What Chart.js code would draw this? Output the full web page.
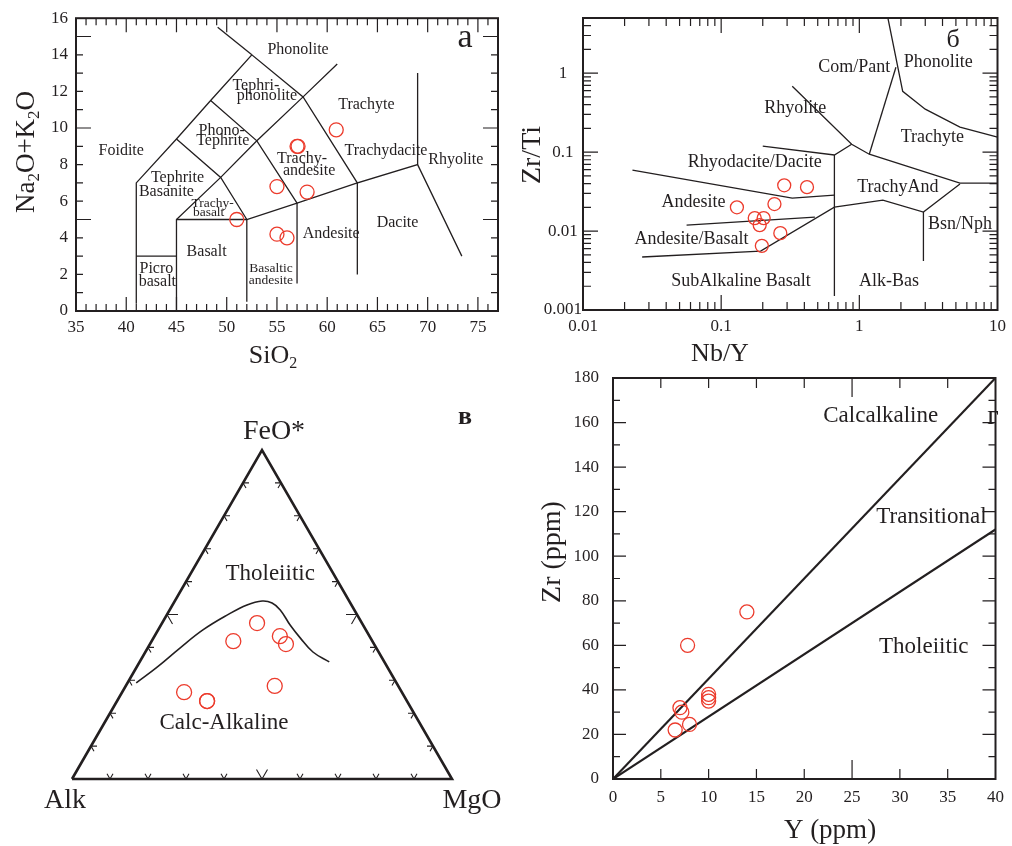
<!DOCTYPE html>
<html>
<head>
<meta charset="utf-8">
<title>Discrimination diagrams</title>
<script src="https://cdn.jsdelivr.net/npm/chart.js@4.4.1/dist/chart.umd.min.js"></script>
<style>
  body { margin: 0; background: #fff; }
  #wrap { position: relative; width: 1012px; height: 846px; }
  #wrap canvas { position: absolute; left: 0; top: 0; }
</style>
</head>
<body>
<div id="wrap">
  <canvas id="tas" width="1012" height="846"></canvas>
  <canvas id="wf" width="1012" height="846"></canvas>
  <canvas id="afm" width="1012" height="846"></canvas>
  <canvas id="zry" width="1012" height="846"></canvas>
</div>
<script>
// а: TAS, SiO2 vs Na2O+K2O
const tasSiO2 = [51.0, 60.9, 57.0, 57.1, 55.0, 58.0, 55.0, 56.0];
const tasAlk = [5.0, 9.9, 9.0, 9.0, 6.8, 6.5, 4.2, 4.0];
const tasXTicks = [35, 40, 45, 50, 55, 60, 65, 70, 75];
const tasYTicks = [0, 2, 4, 6, 8, 10, 12, 14, 16];
const tasBounds = [
  [[41, 0.4], [41, 7], [45, 9.4], [48.4, 11.5], [52.5, 14], [57.6, 11.7], [63, 7], [69, 8], [73.4, 3]],
  [[49.1, 15.5], [52.5, 14]],
  [[41, 3], [45, 3]],
  [[45, 0], [45, 5], [49.4, 7.3], [53, 9.3], [57.6, 11.7], [61, 13.5]],
  [[45, 9.4], [49.4, 7.3], [52, 5]],
  [[48.4, 11.5], [53, 9.3], [57, 5.9]],
  [[45, 5], [52, 5], [57, 5.9], [63, 7]],
  [[52, 0.5], [52, 5]],
  [[57, 1.5], [57, 5.9]],
  [[63, 2], [63, 7]],
  [[69, 8], [69, 13]]
];
const tasNames = [
  ['Phonolite', 57.1, 14.3], ['Tephri-', 52.9, 12.3], ['phonolite', 54.0, 11.75],
  ['Phono-', 49.5, 9.85], ['Tephrite', 49.6, 9.3], ['Foidite', 39.5, 8.75],
  ['Tephrite', 45.1, 7.3], ['Basanite', 44.0, 6.5], ['Basalt', 48.0, 3.26],
  ['Picro', 43.0, 2.3], ['basalt', 43.1, 1.6], ['Andesite', 60.4, 4.2],
  ['Dacite', 67.0, 4.8], ['Trachy-', 57.5, 8.3], ['andesite', 58.2, 7.66],
  ['Trachyte', 63.9, 11.25], ['Trachydacite', 65.85, 8.75], ['Rhyolite', 72.8, 8.25]
];
const tasNamesSmall = [
  ['Trachy-', 48.6, 5.9], ['basalt', 48.2, 5.4], ['Basaltic', 54.4, 2.35], ['andesite', 54.4, 1.65]
];

// б: Zr/Ti vs Nb/Y
const wfNbY = [0.286, 0.418, 0.243, 0.13, 0.175, 0.203, 0.19, 0.268, 0.197];
const wfZrTi = [0.038, 0.036, 0.022, 0.020, 0.0146, 0.0146, 0.0119, 0.0094, 0.0065];
const wfXTicks = [0.01, 0.1, 1, 10];
const wfYTicks = [0.001, 0.01, 0.1, 1];
const wfBounds = [
  [[0.2, 0.119], [0.66, 0.092], [0.88, 0.126]],
  [[0.327, 0.684], [0.88, 0.126], [1.18, 0.094], [5.35, 0.0405], [10, 0.0405]],
  [[1.18, 0.094], [1.84, 1.19]],
  [[1.61, 5], [2.06, 0.59], [3.0, 0.35], [5.35, 0.207], [10, 0.155]],
  [[0.66, 0.092], [0.66, 0.0015]],
  [[0.0228, 0.0592], [0.327, 0.0262], [0.66, 0.0286]],
  [[0.0562, 0.0119], [0.477, 0.015]],
  [[0.0268, 0.00469], [0.193, 0.00558], [0.66, 0.0201], [1.48, 0.0247], [2.91, 0.0174], [5.35, 0.0395]],
  [[2.91, 0.0174], [2.91, 0.00417]]
];
const wfNames = [
  ['Phonolite', 3.73, 1.38], ['Com/Pant', 0.92, 1.19], ['Rhyolite', 0.344, 0.36],
  ['Trachyte', 3.38, 0.155], ['Rhyodacite/Dacite', 0.175, 0.0747], ['Andesite', 0.063, 0.0233],
  ['TrachyAnd', 1.9, 0.036], ['Andesite/Basalt', 0.061, 0.0079], ['Bsn/Nph', 5.35, 0.0123],
  ['SubAlkaline Basalt', 0.139, 0.00233], ['Alk-Bas', 1.64, 0.00233]
];

// в: AFM, wt% Alk / FeO* / MgO
const afmAlk = [57.3, 52.6, 52.6, 36.6, 27.6, 23.6, 23.2, 32.5];
const afmFeO = [26.4, 23.7, 23.7, 41.9, 47.4, 43.4, 41.0, 28.3];
const afmMgO = [16.3, 23.7, 23.7, 21.5, 25.0, 33.0, 35.8, 39.2];
const afmCurveFeO = [29.2, 34.0, 39.8, 45.3, 49.8, 52.9, 54.1, 53.5, 51.4, 46.8, 42.9, 38.6, 35.6];
const afmCurveMgO = [2.3, 5.4, 8.5, 11.8, 15.9, 19.6, 23.0, 25.9, 29.1, 34.0, 38.6, 44.1, 49.9];
const afmNames = [['Tholeiitic', 62.3, 21.0], ['Calc-Alkaline', 17.0, 31.5]];

// г: Zr vs Y
const zyY = [14, 7.8, 10, 10, 10, 7, 7.2, 6.5, 8];
const zyZr = [75, 60, 38, 36.5, 35, 32, 30, 22, 24.5];
const zyXTicks = [0, 5, 10, 15, 20, 25, 30, 35, 40];
const zyYTicks = [0, 20, 40, 60, 80, 100, 120, 140, 160, 180];
const zyBounds = [[[0, 0], [40, 180]], [[0, 0], [40, 112]]];
const zyNames = [['Calcalkaline', 28, 163], ['Transitional', 33.3, 117.6], ['Tholeiitic', 32.5, 59.2]];

const W = 1012, H = 846;
const SERIF = "'Liberation Serif', 'Times New Roman', serif";
const INK = '#231f20';
const RED = '#ec3b2c';
const H3 = Math.sqrt(3) / 2;

Chart.defaults.font.family = SERIF;
Chart.defaults.color = INK;
Chart.defaults.animation = false;
Chart.defaults.events = [];
Chart.defaults.plugins.legend.display = false;
Chart.defaults.plugins.tooltip.enabled = false;

function range(a, b, step) {
  const out = [];
  for (let v = a; v <= b + 1e-9; v += step) out.push(+v.toFixed(6));
  return out;
}
function logMinor(d0, d1) {
  const out = [];
  for (let e = d0; e < d1; e++) for (let k = 2; k <= 9; k++) out.push(k * Math.pow(10, e));
  return out;
}
function pts(xs, ys) { return xs.map((v, i) => ({ x: v, y: ys[i] })); }

function samples(data, r) {
  return { data, pointRadius: r, borderColor: RED, backgroundColor: 'rgba(0,0,0,0)', borderWidth: 1.3, showLine: false, clip: false };
}
function lines(list, w) {
  return list.map(l => ({
    data: l.map(([x, y]) => ({ x, y })), showLine: true, borderColor: INK, borderWidth: w, pointRadius: 0, tension: 0
  }));
}
function pad(area, yw, xh) {
  return { left: area.left - yw, top: area.top, right: W - area.right, bottom: H - area.bottom - xh };
}
function axis(type, min, max, ticks, fixed, padding, extra) {
  return Object.assign({
    type, min, max,
    grid: { display: false, drawTicks: false },
    border: { display: false },
    ticks: { color: INK, font: { family: SERIF, size: 17 }, padding, autoSkip: false, maxRotation: 0, minRotation: 0, callback: v => String(v) },
    afterBuildTicks: s => { s.ticks = ticks.map(v => ({ value: v })); },
    afterFit: s => { if (s.isHorizontal()) s.height = fixed; else s.width = fixed; }
  }, extra || {});
}

// text with "_x" subscripts, centred on (x, y)
function rich(ctx, str, x, y, size, rot, bold) {
  const parts = str.split(/(_.)/).filter(Boolean)
    .map(p => p[0] === '_' ? { t: p.slice(1), sub: true } : { t: p, sub: false });
  const fBig = (bold ? 'bold ' : '') + size + 'px ' + SERIF;
  const fSub = Math.round(size * 0.62) + 'px ' + SERIF;
  ctx.save();
  ctx.translate(x, y);
  if (rot) ctx.rotate(rot);
  ctx.textAlign = 'left';
  ctx.textBaseline = 'alphabetic';
  let w = 0;
  parts.forEach(p => { ctx.font = p.sub ? fSub : fBig; p.w = ctx.measureText(p.t).width; w += p.w; });
  let cx = -w / 2;
  parts.forEach(p => {
    ctx.font = p.sub ? fSub : fBig;
    ctx.fillText(p.t, cx, size * 0.33 + (p.sub ? size * 0.2 : 0));
    cx += p.w;
  });
  ctx.restore();
}

function decor(cfg) {
  return {
    id: 'decor',
    afterDatasetsDraw(chart) {
      const { ctx, chartArea: a, scales: { x, y } } = chart;
      ctx.save();
      ctx.strokeStyle = INK;
      ctx.fillStyle = INK;
      ctx.lineWidth = cfg.frame;
      ctx.strokeRect(a.left, a.top, a.right - a.left, a.bottom - a.top);
      ctx.lineWidth = 1.2;
      ctx.beginPath();
      cfg.xTicks.forEach(([vals, len]) => vals.forEach(v => {
        const p = x.getPixelForValue(v);
        ctx.moveTo(p, a.bottom); ctx.lineTo(p, a.bottom - len);
        ctx.moveTo(p, a.top); ctx.lineTo(p, a.top + len);
      }));
      cfg.yTicks.forEach(([vals, len]) => vals.forEach(v => {
        const p = y.getPixelForValue(v);
        ctx.moveTo(a.left, p); ctx.lineTo(a.left + len, p);
        ctx.moveTo(a.right, p); ctx.lineTo(a.right - len, p);
      }));
      ctx.stroke();
      ctx.textAlign = 'center';
      ctx.textBaseline = 'middle';
      cfg.names.forEach(([list, size]) => {
        ctx.font = size + 'px ' + SERIF;
        list.forEach(([t, vx, vy]) => ctx.fillText(t, x.getPixelForValue(vx), y.getPixelForValue(vy)));
      });
      cfg.texts.forEach(t => rich(ctx, t.s, t.x, t.y, t.size, t.rot, t.bold));
      ctx.restore();
    }
  };
}

// ---- а ----
const tasArea = { left: 76, top: 16, right: 498, bottom: 311 };
new Chart(document.getElementById('tas'), {
  type: 'scatter',
  data: { datasets: [samples(pts(tasSiO2, tasAlk), 7), ...lines(tasBounds, 1.3)] },
  options: {
    responsive: false,
    layout: { padding: pad(tasArea, 70, 40) },
    scales: {
      x: axis('linear', 35, 77, tasXTicks, 40, 6),
      y: axis('linear', 0, 16, tasYTicks, 70, 8)
    }
  },
  plugins: [decor({
    frame: 2,
    xTicks: [[range(36, 76, 1).filter(v => v % 5), 7], [range(40, 75, 5), 14]],
    yTicks: [[range(1, 15, 1).filter(v => v % 5), 7], [[5, 10, 15], 15]],
    names: [[tasNames, 16], [tasNamesSmall, 13.5]],
    texts: [
      { s: 'SiO_2', x: 273, y: 354, size: 26 },
      { s: 'Na_2O+K_2O', x: 25, y: 152, size: 27, rot: -Math.PI / 2 },
      { s: 'а', x: 465, y: 36, size: 34 }
    ]
  })]
});

// ---- б ----
const wfArea = { left: 583, top: 18, right: 1002, bottom: 310 };
new Chart(document.getElementById('wf'), {
  type: 'scatter',
  data: { datasets: [samples(pts(wfNbY, wfZrTi), 6.5), ...lines(wfBounds, 1.3)] },
  options: {
    responsive: false,
    layout: { padding: pad(wfArea, 60, 40) },
    scales: {
      x: axis('logarithmic', 0.01, 10, wfXTicks, 40, 6),
      y: axis('logarithmic', 0.001, 5, wfYTicks, 60, 1, { ticks: {
        color: INK, font: { family: SERIF, size: 17 }, padding: 1, crossAlign: 'center', callback: v => String(v)
      } })
    }
  },
  plugins: [decor({
    frame: 2,
    xTicks: [[logMinor(-2, 1), 8], [[0.1, 1], 15]],
    yTicks: [[logMinor(-3, 0).concat([2, 3, 4]), 8], [[0.01, 0.1, 1], 15]],
    names: [[wfNames, 18]],
    texts: [
      { s: 'Nb/Y', x: 720, y: 352, size: 26 },
      { s: 'Zr/Ti', x: 531, y: 155, size: 28, rot: -Math.PI / 2 },
      { s: 'б', x: 953, y: 38, size: 26 }
    ]
  })]
});

// ---- в ----
const tern = (a, f, m) => ({ x: (m + f / 2) / 100, y: f / 100 * H3 });
const afmPts = afmAlk.map((a, i) => tern(a, afmFeO[i], afmMgO[i]));
const afmCurve = afmCurveFeO.map((f, i) => tern(100 - f - afmCurveMgO[i], f, afmCurveMgO[i]));
const afmEdge = [tern(100, 0, 0), tern(0, 0, 100), tern(0, 100, 0), tern(100, 0, 0)];
const afmDecor = {
  id: 'afmDecor',
  afterDatasetsDraw(chart) {
    const { ctx, scales: { x, y } } = chart;
    const px = p => [x.getPixelForValue(p.x), y.getPixelForValue(p.y)];
    const edges = [
      [tern(100, 0, 0), tern(0, 0, 100), [-60, -120]],
      [tern(100, 0, 0), tern(0, 100, 0), [0, 60]],
      [tern(0, 0, 100), tern(0, 100, 0), [180, 120]]
    ];
    ctx.save();
    ctx.strokeStyle = INK;
    ctx.fillStyle = INK;
    ctx.lineWidth = 1.1;
    ctx.beginPath();
    edges.forEach(([p0, p1, dirs]) => {
      for (let k = 1; k <= 9; k++) {
        const [qx, qy] = px({ x: p0.x + (p1.x - p0.x) * k / 10, y: p0.y + (p1.y - p0.y) * k / 10 });
        const len = k === 5 ? 11 : 6;
        dirs.forEach(d => {
          const r = d * Math.PI / 180;
          ctx.moveTo(qx, qy);
          ctx.lineTo(qx + len * Math.cos(r), qy + len * Math.sin(r));
        });
      }
    });
    ctx.stroke();
    ctx.textAlign = 'center';
    ctx.textBaseline = 'middle';
    ctx.font = '23px ' + SERIF;
    afmNames.forEach(([t, f, m]) => {
      const [qx, qy] = px(tern(100 - f - m, f, m));
      ctx.fillText(t, qx, qy);
    });
    rich(ctx, 'FeO*', 274, 430, 28);
    rich(ctx, 'Alk', 65, 799, 28);
    rich(ctx, 'MgO', 472, 799, 28);
    rich(ctx, 'в', 465, 415, 26, 0, true);
    ctx.restore();
  }
};
new Chart(document.getElementById('afm'), {
  type: 'scatter',
  data: {
    datasets: [
      samples(afmPts, 7.5),
      { data: afmCurve, showLine: true, borderColor: INK, borderWidth: 1.6, pointRadius: 0, tension: 0.4, clip: false },
      { data: afmEdge, showLine: true, borderColor: INK, borderWidth: 2.6, pointRadius: 0, tension: 0, clip: false }
    ]
  },
  options: {
    responsive: false,
    layout: { padding: { left: 72, top: 450, right: W - 452, bottom: H - 779 } },
    scales: {
      x: { type: 'linear', min: 0, max: 1, display: false },
      y: { type: 'linear', min: 0, max: H3, display: false }
    }
  },
  plugins: [afmDecor]
});

// ---- г ----
const zyArea = { left: 613, top: 378, right: 1002, bottom: 779 };
new Chart(document.getElementById('zry'), {
  type: 'scatter',
  data: { datasets: [samples(pts(zyY, zyZr), 7), ...lines(zyBounds, 2.2)] },
  options: {
    responsive: false,
    layout: { padding: pad(zyArea, 70, 40) },
    scales: {
      x: axis('linear', 0, 40, zyXTicks, 40, 8),
      y: axis('linear', 0, 180, zyYTicks, 70, 14)
    }
  },
  plugins: [decor({
    frame: 2,
    xTicks: [[[5, 10, 15, 20, 30, 35], 10], [[25], 19]],
    yTicks: [[range(10, 170, 20), 7], [range(20, 160, 20), 13]],
    names: [[zyNames, 23]],
    texts: [
      { s: 'Y (ppm)', x: 830, y: 829, size: 27 },
      { s: 'Zr (ppm)', x: 551, y: 552, size: 28, rot: -Math.PI / 2 },
      { s: 'г', x: 993, y: 415, size: 28 }
    ]
  })]
});
</script>
</body>
</html>
